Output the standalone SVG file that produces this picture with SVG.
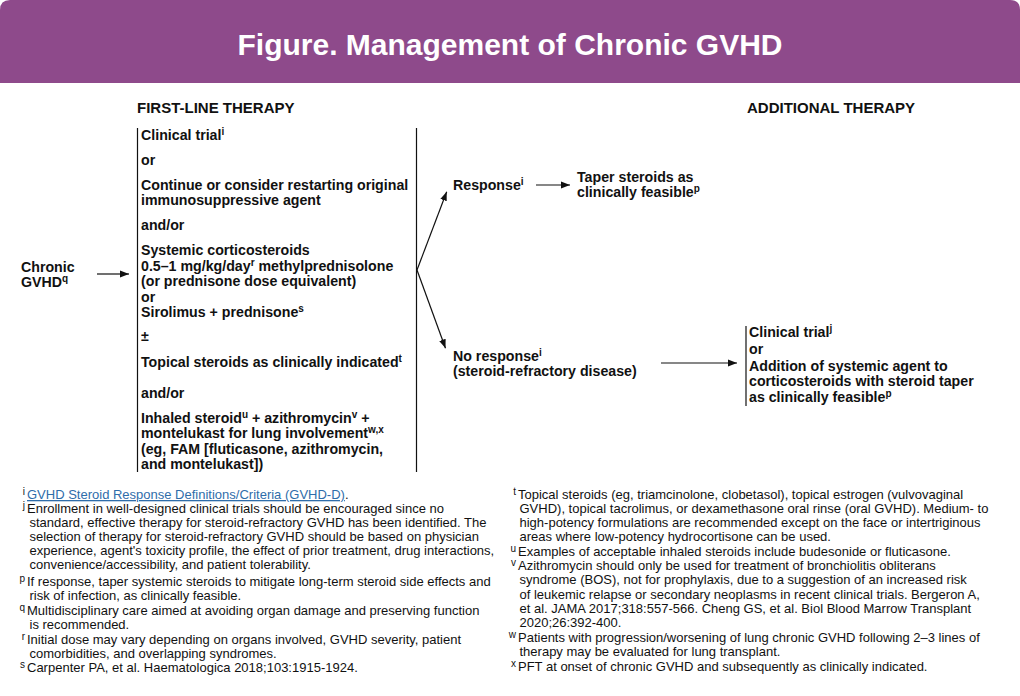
<svg xmlns="http://www.w3.org/2000/svg" width="1020" height="696" viewBox="0 0 1020 696">
<style>
text{font-family:"Liberation Sans",Arial,sans-serif;fill:#111;}
.t{font-size:30px;font-weight:bold;fill:#fff;}
.h{font-size:15px;font-weight:bold;}
.b{font-size:14.2px;font-weight:bold;}
.sup{font-size:10px;}
.fn{font-size:13px;}
.fs{font-size:10px;}
.link{fill:#2F6DAA;text-decoration:underline;}
.ln{stroke:#111;stroke-width:1.2;fill:none;}
</style>
<defs>
<marker id="ah" viewBox="0 0 10 10" refX="10" refY="5" markerWidth="9" markerHeight="9" markerUnits="userSpaceOnUse" orient="auto">
<path d="M0,1.2 L10,5 L0,8.8 z" fill="#111"/>
</marker>
</defs>
<rect width="1020" height="696" fill="#fff"/>
<path d="M0,83 L0,10 Q0,0 10,0 L1010,0 Q1020,0 1020,10 L1020,83 z" fill="#8E4A8B"/>
<text class="t" x="510" y="55" text-anchor="middle">Figure. Management of Chronic GVHD</text>
<text class="h" x="137" y="113">FIRST-LINE THERAPY</text>
<text class="h" x="747" y="113">ADDITIONAL THERAPY</text>

<g id="chronic">
<text class="b" x="21" y="272">Chronic</text>
<text class="b" x="21" y="287">GVHD<tspan class="sup" dy="-5">q</tspan></text>
</g>

<g id="firstline">
<line class="ln" x1="137.5" y1="128" x2="137.5" y2="472"/>
<line class="ln" x1="416.5" y1="128" x2="416.5" y2="472"/>
<text class="b" x="141" y="140">Clinical trial<tspan class="sup" dy="-5">i</tspan></text>
<text class="b" x="141" y="165">or</text>
<text class="b" x="141" y="190">Continue or consider restarting original</text>
<text class="b" x="141" y="205">immunosuppressive agent</text>
<text class="b" x="141" y="230">and/or</text>
<text class="b" x="141" y="255">Systemic corticosteroids</text>
<text class="b" x="141" y="271">0.5–1 mg/kg/day<tspan class="sup" dy="-5">r</tspan><tspan dy="5"> methylprednisolone</tspan></text>
<text class="b" x="141" y="286">(or prednisone dose equivalent)</text>
<text class="b" x="141" y="302">or</text>
<text class="b" x="141" y="317">Sirolimus + prednisone<tspan class="sup" dy="-5">s</tspan></text>
<text class="b" x="141" y="341">±</text>
<text class="b" x="141" y="367">Topical steroids as clinically indicated<tspan class="sup" dy="-5">t</tspan></text>
<text class="b" x="141" y="398">and/or</text>
<text class="b" x="141" y="423">Inhaled steroid<tspan class="sup" dy="-5">u</tspan><tspan dy="5"> + azithromycin</tspan><tspan class="sup" dy="-5">v</tspan><tspan dy="5"> +</tspan></text>
<text class="b" x="141" y="438">montelukast for lung involvement<tspan class="sup" dy="-5">w,x</tspan></text>
<text class="b" x="141" y="454">(eg, FAM [fluticasone, azithromycin,</text>
<text class="b" x="141" y="469">and montelukast])</text>
</g>

<g id="response">
<text class="b" x="453" y="190">Response<tspan class="sup" dy="-5">i</tspan></text>
</g>
<g id="taper">
<text class="b" x="577" y="182">Taper steroids as</text>
<text class="b" x="577" y="197">clinically feasible<tspan class="sup" dy="-5">p</tspan></text>
</g>
<g id="noresponse">
<text class="b" x="453" y="361">No response<tspan class="sup" dy="-5">i</tspan></text>
<text class="b" x="453" y="376">(steroid-refractory disease)</text>
</g>
<g id="additional">
<line class="ln" x1="746" y1="326" x2="746" y2="406"/>
<text class="b" x="749" y="337">Clinical trial<tspan class="sup" dy="-5">j</tspan></text>
<text class="b" x="749" y="354">or</text>
<text class="b" x="749" y="371">Addition of systemic agent to</text>
<text class="b" x="749" y="386">corticosteroids with steroid taper</text>
<text class="b" x="749" y="402">as clinically feasible<tspan class="sup" dy="-5">p</tspan></text>
</g>

<g id="connectors">
<line class="ln" x1="97" y1="274" x2="129" y2="274" marker-end="url(#ah)"/>
<line class="ln" x1="417" y1="270" x2="446.7" y2="191.7" marker-end="url(#ah)"/>
<line class="ln" x1="417" y1="270" x2="445.5" y2="348.3" marker-end="url(#ah)"/>
<line class="ln" x1="536" y1="185" x2="570" y2="185" marker-end="url(#ah)"/>
<line class="ln" x1="661" y1="363" x2="737" y2="363" marker-end="url(#ah)"/>
</g>

<g id="footnotes-left">
<text class="fs" x="25" y="495" text-anchor="end">i</text>
<text class="fn" x="27" y="499"><tspan class="link">GVHD Steroid Response Definitions/Criteria (GVHD-D)</tspan>.</text>
<text class="fs" x="25" y="509" text-anchor="end">j</text>
<text class="fn" x="27" y="513">Enrollment in well-designed clinical trials should be encouraged since no</text>
<text class="fn" x="29.5" y="527">standard, effective therapy for steroid-refractory GVHD has been identified. The</text>
<text class="fn" x="29.5" y="541">selection of therapy for steroid-refractory GVHD should be based on physician</text>
<text class="fn" x="29.5" y="555">experience, agent's toxicity profile, the effect of prior treatment, drug interactions,</text>
<text class="fn" x="29.5" y="569">convenience/accessibility, and patient tolerability.</text>
<text class="fs" x="25" y="582" text-anchor="end">p</text>
<text class="fn" x="27" y="586">If response, taper systemic steroids to mitigate long-term steroid side effects and</text>
<text class="fn" x="29.5" y="600">risk of infection, as clinically feasible.</text>
<text class="fs" x="25" y="611" text-anchor="end">q</text>
<text class="fn" x="27" y="615">Multidisciplinary care aimed at avoiding organ damage and preserving function</text>
<text class="fn" x="29.5" y="629">is recommended.</text>
<text class="fs" x="25" y="640" text-anchor="end">r</text>
<text class="fn" x="27" y="644">Initial dose may vary depending on organs involved, GVHD severity, patient</text>
<text class="fn" x="29.5" y="658">comorbidities, and overlapping syndromes.</text>
<text class="fs" x="25" y="668" text-anchor="end">s</text>
<text class="fn" x="27" y="672">Carpenter PA, et al. Haematologica 2018;103:1915-1924.</text>
</g>

<g id="footnotes-right">
<text class="fs" x="516" y="495" text-anchor="end">t</text>
<text class="fn" x="518" y="499">Topical steroids (eg, triamcinolone, clobetasol), topical estrogen (vulvovaginal</text>
<text class="fn" x="519.5" y="513">GVHD), topical tacrolimus, or dexamethasone oral rinse (oral GVHD). Medium- to</text>
<text class="fn" x="519.5" y="527">high-potency formulations are recommended except on the face or intertriginous</text>
<text class="fn" x="519.5" y="541">areas where low-potency hydrocortisone can be used.</text>
<text class="fs" x="516" y="552" text-anchor="end">u</text>
<text class="fn" x="518" y="556">Examples of acceptable inhaled steroids include budesonide or fluticasone.</text>
<text class="fs" x="516" y="566" text-anchor="end">v</text>
<text class="fn" x="518" y="570">Azithromycin should only be used for treatment of bronchiolitis obliterans</text>
<text class="fn" x="519.5" y="584">syndrome (BOS), not for prophylaxis, due to a suggestion of an increased risk</text>
<text class="fn" x="519.5" y="599">of leukemic relapse or secondary neoplasms in recent clinical trials. Bergeron A,</text>
<text class="fn" x="519.5" y="613">et al. JAMA 2017;318:557-566. Cheng GS, et al. Biol Blood Marrow Transplant</text>
<text class="fn" x="519.5" y="627">2020;26:392-400.</text>
<text class="fs" x="516" y="638" text-anchor="end">w</text>
<text class="fn" x="518" y="642">Patients with progression/worsening of lung chronic GVHD following 2–3 lines of</text>
<text class="fn" x="519.5" y="656">therapy may be evaluated for lung transplant.</text>
<text class="fs" x="516" y="667" text-anchor="end">x</text>
<text class="fn" x="518" y="671">PFT at onset of chronic GVHD and subsequently as clinically indicated.</text>
</g>
</svg>
